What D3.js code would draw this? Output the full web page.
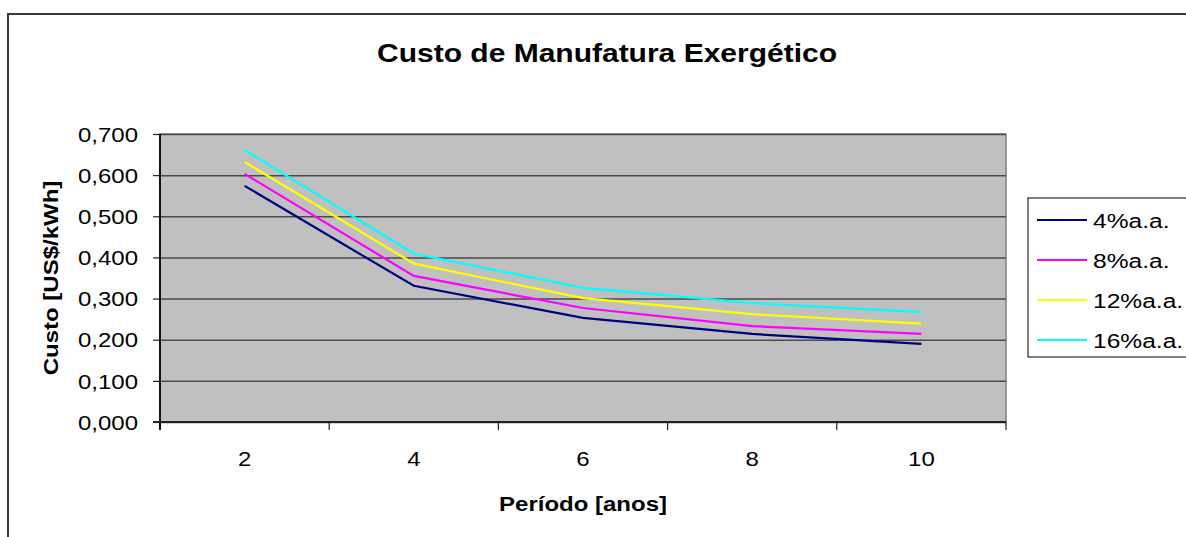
<!DOCTYPE html>
<html><head><meta charset="utf-8">
<script src="https://cdn.jsdelivr.net/npm/d3@7"></script>
<style>
html,body{margin:0;padding:0;background:#fff;overflow:hidden;}
text{font-family:"Liberation Sans",Arial,sans-serif;fill:#000;}
</style></head>
<body>
<svg id="c" width="1186" height="537"></svg>
<script>
const categories = [2, 4, 6, 8, 10];
const seriesNames = ["4%a.a.", "8%a.a.", "12%a.a.", "16%a.a."];
const s4  = [0.574, 0.331, 0.253, 0.214, 0.190];
const s8  = [0.603, 0.355, 0.277, 0.233, 0.214];
const s12 = [0.632, 0.385, 0.301, 0.262, 0.239];
const s16 = [0.661, 0.409, 0.326, 0.289, 0.267];
const yTicks = [0, 0.1, 0.2, 0.3, 0.4, 0.5, 0.6, 0.7];
const colors = ["#000080", "#ff00ff", "#ffff00", "#00ffff"];
const title = "Custo de Manufatura Exergético";
const xTitle = "Período [anos]";
const yTitle = "Custo [US$/kWh]";

const series = [s4, s8, s12, s16].map((v, i) => ({name: seriesNames[i], values: v, color: colors[i]}));

const SX = 1.2; // horizontal text stretch seen in the reference
const svg = d3.select("#c");
const L = 160, R = 1006, T = 134, B = 422;

// outer chart border
svg.append("rect").attr("x", 8).attr("y", 14).attr("width", 1300).attr("height", 700)
  .attr("fill", "#fff").attr("stroke", "#3a3a3a").attr("stroke-width", 2);

const x = d3.scaleBand().domain(categories).range([L, R]).padding(0);
const y = d3.scaleLinear().domain([0, 0.7]).range([B, T]);

// plot area
svg.append("rect").attr("x", L).attr("y", T).attr("width", R - L).attr("height", B - T)
  .attr("fill", "#c0c0c0").attr("stroke", "#808080").attr("stroke-width", 1.5);

const fmt = v => d3.format(".3f")(v).replace(".", ",");

// y axis with gridlines
const yg = svg.append("g").attr("transform", `translate(${L},0)`)
  .call(d3.axisLeft(y).tickValues(yTicks).tickSize(0).tickFormat(fmt));
yg.select(".domain").remove();
yg.selectAll(".tick").append("line").attr("x1", 0).attr("x2", R - L)
  .attr("stroke", "#4a4a4a").attr("stroke-width", 1.5);
yg.selectAll(".tick").append("line").attr("x1", -7).attr("x2", 0)
  .attr("stroke", "#222").attr("stroke-width", 1.2);
yg.selectAll(".tick text").attr("x", -22 / SX).attr("dy", "0.36em")
  .attr("transform", `scale(${SX},1)`).style("font-size", "20px").style("font-family", '"Liberation Sans",Arial,sans-serif');

// x axis
const xg = svg.append("g").attr("transform", `translate(0,${B})`)
  .call(d3.axisBottom(x).tickSize(0).tickFormat(d => String(d)));
xg.select(".domain").remove();
xg.selectAll(".tick text").attr("y", 44).attr("dy", 0)
  .attr("transform", `scale(${SX},1)`).style("font-size", "20px").style("font-family", '"Liberation Sans",Arial,sans-serif');
const bounds = categories.map(c => x(c)).concat([R]);
svg.append("g").selectAll("line").data(bounds).join("line")
  .attr("x1", d => d).attr("x2", d => d).attr("y1", B).attr("y2", B + 8)
  .attr("stroke", "#222").attr("stroke-width", 1.2);

// axis lines
svg.append("line").attr("x1", L).attr("x2", L).attr("y1", T).attr("y2", B + 8)
  .attr("stroke", "#111").attr("stroke-width", 2);
svg.append("line").attr("x1", L - 7).attr("x2", R).attr("y1", B).attr("y2", B)
  .attr("stroke", "#222").attr("stroke-width", 2);

// lines
const line = d3.line().x((d, i) => x(categories[i]) + x.bandwidth() / 2).y(d => y(d));
svg.append("g").selectAll("path").data(series).join("path")
  .attr("d", d => line(d.values)).attr("fill", "none")
  .attr("stroke", d => d.color).attr("stroke-width", 2.2);

// titles
function stretchedText(px, py, str, size, weight, anchor, rot) {
  const g = svg.append("g").attr("transform", `translate(${px},${py}) rotate(${rot || 0}) scale(${SX},1)`);
  return g.append("text").attr("text-anchor", anchor).attr("dominant-baseline", "alphabetic")
    .style("font-size", size + "px").style("font-weight", weight).text(str);
}
stretchedText(607, 62, title, 25, "bold", "middle");
stretchedText(583, 511, xTitle, 20, "bold", "middle");
stretchedText(58, 278, yTitle, 20, "bold", "middle", -90);

// legend
svg.append("rect").attr("x", 1028).attr("y", 198).attr("width", 300).attr("height", 159)
  .attr("fill", "#fff").attr("stroke", "#000").attr("stroke-width", 1);
const lg = svg.append("g").selectAll("g").data(series).join("g")
  .attr("transform", (d, i) => `translate(1037,${220 + i * 40})`);
lg.append("line").attr("x1", 0).attr("x2", 50).attr("stroke", d => d.color).attr("stroke-width", 2.2);
lg.append("text").attr("transform", `translate(56,0) scale(1.17,1)`).attr("dy", "0.36em")
  .style("font-size", "21px").text(d => d.name);
</script>
</body></html>
